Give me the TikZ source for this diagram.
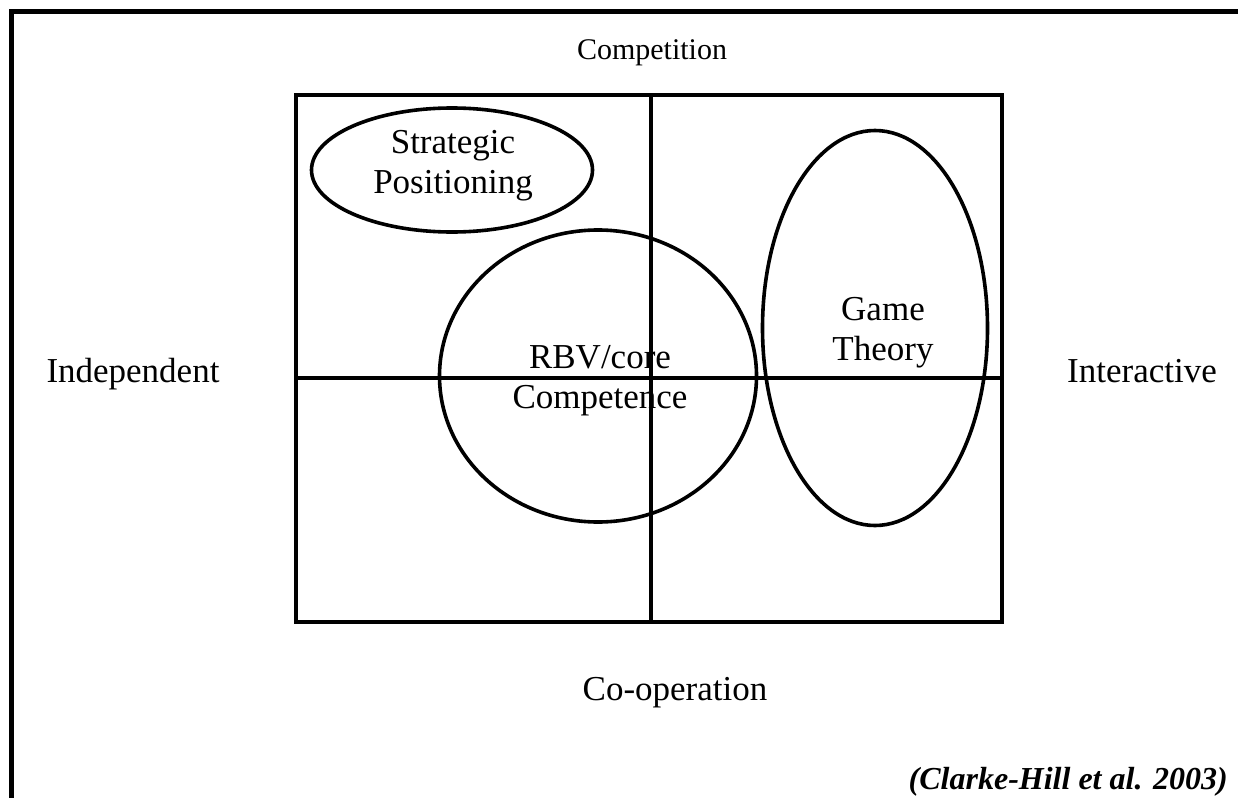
\documentclass[tikz,border=0pt]{standalone}
\usepackage{fontspec}
\setmainfont{Liberation Serif}
\usetikzlibrary{shapes.geometric}
\begin{document}
\begin{tikzpicture}[x=1pt,y=-1pt,
  frame/.style={line width=5pt},
  boxline/.style={line width=4.5pt},
  divider/.style={line width=3.4pt},
  oval/.style={ellipse,draw,line width=3.6pt,inner sep=0pt},
  lbl/.style={font=\fontsize{35}{40}\selectfont,anchor=base,inner sep=0pt},
  inlbl/.style={font=\fontsize{35}{40}\selectfont,align=center,inner sep=0pt}]
\useasboundingbox (0,0) rectangle (1238,797);
\fill[white] (0,0) rectangle (1238,797);
% outer frame (only left and top visible)
\coordinate (fbl) at (11,800);
\coordinate (ftl) at (11,12);
\coordinate (ftr) at (1240,12);
\draw[frame] (fbl) -- (ftl) -- (ftr);
% inner box
\node[draw,boxline,minimum width=706pt,minimum height=527pt,inner sep=0pt] (box) at (649,358.5) {};
\coordinate (vt) at (651,95);
\coordinate (vb) at (651,622);
\coordinate (hl) at (296,378);
\coordinate (hr) at (1002,378);
\draw[divider] (vt) -- (vb);
\draw[divider] (hl) -- (hr);
% ellipses
\node[oval,minimum width=281pt,minimum height=124pt] (sp) at (452,170) {};
\node[oval,minimum width=317pt,minimum height=292pt] (rbv) at (598,376) {};
\node[oval,minimum width=225pt,minimum height=395pt] (gt) at (875,328) {};
% inner labels
\node[inlbl] (sptext) at (453,166) {Strategic\\Positioning};
\node[inlbl] (rbvtext) at (600,381) {RBV/core\\Competence};
\node[inlbl] (gttext) at (883,333) {Game\\Theory};
% axis labels
\node[lbl,font=\fontsize{30}{34}\selectfont] (comp) at (652,60) {Competition};
\node[lbl] (coop) at (675,700) {Co-operation};
\node[lbl] (indep) at (133,382) {Independent};
\node[lbl] (inter) at (1142,382) {Interactive};
% citation
\node[font=\fontsize{32}{36}\selectfont\bfseries\itshape,anchor=base east,inner sep=0pt] (cite) at (1228,789) {(Clarke-Hill et al. 2003)};
\end{tikzpicture}
\end{document}
